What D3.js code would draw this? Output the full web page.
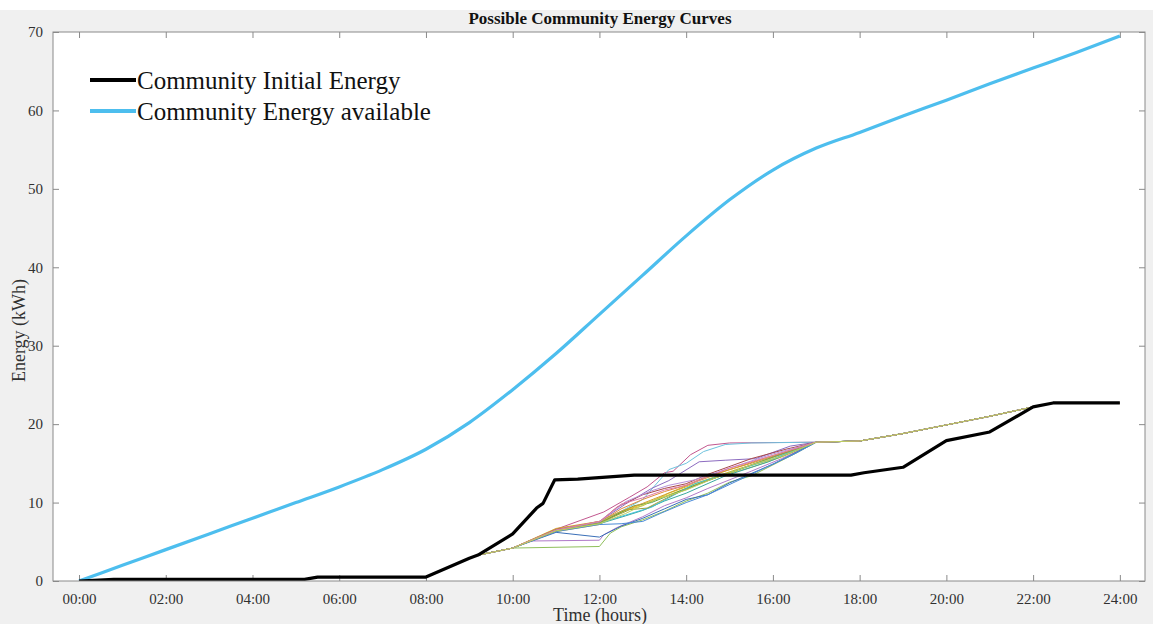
<!DOCTYPE html>
<html><head><meta charset="utf-8">
<script src="https://cdn.jsdelivr.net/npm/d3@7"></script>
<style>
html,body{margin:0;padding:0;background:#f0f0f0;}
svg{display:block;}
text{font-family:"Liberation Serif","Times New Roman",serif;}
</style></head><body>
<svg id="c" width="1153" height="624"></svg>
<script>
// ---------- DATA ----------
const xTicks = [0,2,4,6,8,10,12,14,16,18,20,22,24];
const yTicks = [0,10,20,30,40,50,60,70];
const legendLabels = ["Community Initial Energy","Community Energy available"];

// Community Energy available (hour, kWh)
const availHours  = [0,1,2,3,4,5,6,7,8,9,10,11,12,13,14,15,16,17,18,19,20,21,22,23,24];
const availValues = [0,2.0,4.0,6.0,8.0,10.0,12.0,14.2,16.8,20.2,24.4,29.0,34.0,39.0,44.0,48.6,52.4,55.2,57.2,59.3,61.3,63.4,65.4,67.4,69.5];

// Community Initial Energy
const initHours  = [0,0.8,5.2,5.5,8,9,9.2,10,10.55,10.7,10.97,11.5,12.8,14.3,17.8,18.1,19,20,21,22,22.46,24];
const initValues = [0,0.2,0.2,0.5,0.5,2.9,3.3,6.0,9.3,9.9,12.9,13.0,13.5,13.5,13.5,13.8,14.5,17.9,19.0,22.2,22.7,22.7];

// Possible curves: shared start, individual middle parts, shared end
const sharedStart = [[0,0],[0.8,0.2],[5.2,0.2],[5.5,0.5],[8,0.5],[9,2.9],[9.2,3.3]];
const sharedEnd   = [[18,17.85],[19,18.8],[20,19.9],[21,21.0],[22,22.2],[22.46,22.7],[24,22.7]];
const curve01 = [[10,4.2],[12,4.4],[12.25,6.1],[12.5,6.9],[13,7.8],[13.5,8.9],[14,10.2],[14.5,11.2],[15,12.6],[15.5,13.4],[16,14.8],[16.5,16.2],[17,17.7]];
const curve02 = [[10,4.2],[10.4,5.1],[12,5.2],[12.1,5.9],[12.4,6.8],[13,8.2],[13.5,9.6],[14,10.6],[14.5,11.8],[15.5,14],[16.2,15.6],[17,17.7]];
const curve03 = [[10,4.2],[11,6.5],[12,7.4],[12.5,8.8],[13,9.8],[13.5,10.8],[14,11.8],[14.5,12.9],[15.5,14.5],[16.2,15.8],[17,17.7]];
const curve04 = [[10,4.2],[11,6.3],[12,7.2],[12.25,8.0],[12.6,9.0],[13,9.6],[13.6,11.2],[14.3,12.6],[15.2,14.3],[16,15.5],[17,17.7]];
const curve05 = [[10,4.2],[11,6.6],[12.1,8.8],[12.7,10.7],[13.1,12.0],[13.5,13.8],[13.7,14.0],[14.1,16.1],[14.5,17.3],[15,17.6],[17,17.7]];
const curve06 = [[10,4.2],[11,6.4],[12,7.6],[12.5,8.9],[13,10.4],[13.6,14.2],[14,15.0],[14.4,16.5],[14.9,17.4],[15.5,17.6],[17,17.7]];
const curve07 = [[10,4.2],[11,6.5],[12,7.6],[12.6,9.8],[13.2,11.8],[13.6,12.8],[14.3,15.2],[14.9,15.4],[15.6,15.6],[16.4,17.2],[17,17.7]];
const curve08 = [[10,4.2],[11,6.2],[12,5.6],[12.5,7.0],[13,8.0],[13.5,9.2],[14,10.4],[14.5,11.0],[15,12.5],[16,14.9],[17,17.7]];
const curve09 = [[10,4.2],[11,6.5],[12,7.5],[12.5,9.2],[13,10.4],[13.5,11.4],[14,12.2],[14.5,13.4],[15.5,15.0],[17,17.7]];
const curve10 = [[10,4.2],[11,6.4],[12,7.3],[12.6,8.3],[13,9.0],[13.5,10.2],[14,11.2],[14.9,13.4],[15.9,15.2],[17,17.7]];
const curve11 = [[10,4.2],[11,6.6],[12,7.5],[12.4,9.4],[13,11.0],[13.5,11.8],[14,12.4],[14.5,13.6],[15.5,15.6],[16.3,16.8],[17,17.7]];
const curve12 = [[10,4.2],[11,6.5],[12,7.4],[12.8,9.6],[13.2,10.0],[14,11.8],[15,13.8],[16,15.8],[17,17.7]];
const curve13 = [[10,4.2],[11,6.4],[12,7.4],[12.6,8.4],[13.2,9.4],[13.6,10.6],[14.2,12.4],[15,13.8],[16,15.6],[17,17.7]];
const curve14 = [[10,4.2],[11,6.7],[12,7.6],[12.5,8.9],[13,9.9],[13.5,11.0],[14.3,12.8],[15,14.2],[16,16.0],[17,17.7]];
const curve15 = [[10,4.2],[11,6.5],[12,7.5],[12.6,10.1],[13.2,11.5],[13.6,12.2],[14.2,12.9],[15,14.4],[16,16.2],[17,17.7]];
const curve16 = [[10,4.2],[11,6.3],[12,7.2],[12.5,7.3],[13,7.6],[13.4,8.6],[14,10.0],[14.5,11.0],[15.5,13.6],[16.5,16.2],[17,17.7]];
const curve17 = [[10,4.2],[11,6.4],[12,7.4],[12.7,9.1],[13.1,9.3],[13.7,11.0],[14.5,12.8],[15.5,14.8],[17,17.7]];
const curve18 = [[10,4.2],[11,6.5],[12,7.6],[12.5,9.8],[13,10.6],[13.5,11.6],[14,12.2],[15,14.4],[16,16.0],[17,17.7]];
const curve19 = [[10,4.2],[11,6.4],[12,7.3],[12.6,8.6],[13.2,10.2],[14,11.6],[14.6,13.0],[15.5,14.8],[16.2,15.9],[17,17.7]];
const curveMiddles = [curve01,curve02,curve03,curve04,curve05,curve06,curve07,curve08,curve09,curve10,
                      curve11,curve12,curve13,curve14,curve15,curve16,curve17,curve18,curve19];
const curveColors = ["#8fbf5a","#b07ac8","#e0c030","#d8b828","#c2578f","#6ec3de","#8c6bc0","#3a6fb8","#e08a3c",
                     "#3aa8a0","#a8484a","#5aa04a","#40c0d8","#d0a030","#b890d8","#4a8ad8","#9aa040","#e07aa8","#bcd060"];

// ---------- LAYOUT ----------
const W = 1153, H = 624;
const m = {left:53, right:1145, top:32, bottom:581};
const svg = d3.select("#c");

svg.append("rect").attr("x",0).attr("y",0).attr("width",W).attr("height",10).attr("fill","#ffffff");

const x = d3.scaleLinear().domain([-0.6,24.58]).range([m.left,m.right]);
const y = d3.scaleLinear().domain([0,70]).range([m.bottom,m.top]);

svg.append("rect").attr("x",m.left).attr("y",m.top)
  .attr("width",m.right-m.left).attr("height",m.bottom-m.top).attr("fill","#ffffff");

svg.append("clipPath").attr("id","clp").append("rect")
  .attr("x",m.left).attr("y",m.top).attr("width",m.right-m.left).attr("height",m.bottom-m.top);

const fmt = h => d3.format("02d")(h)+":00";
const tickColor = "#8a8a8a", textColor = "#303030";

// axes
const gx = svg.append("g").attr("transform",`translate(0,${m.bottom})`)
  .call(d3.axisBottom(x).tickValues(xTicks).tickFormat(fmt).tickSizeInner(-6).tickSizeOuter(0).tickPadding(12));
const gxt = svg.append("g").attr("transform",`translate(0,${m.top})`)
  .call(d3.axisTop(x).tickValues(xTicks).tickFormat("").tickSizeInner(-6).tickSizeOuter(0));
const gy = svg.append("g").attr("transform",`translate(${m.left},0)`)
  .call(d3.axisLeft(y).tickValues(yTicks).tickSizeInner(-6).tickSizeOuter(0).tickPadding(10));
const gyr = svg.append("g").attr("transform",`translate(${m.right},0)`)
  .call(d3.axisRight(y).tickValues(yTicks).tickFormat("").tickSizeInner(-6).tickSizeOuter(0));
[gx,gxt,gy,gyr].forEach(g=>{
  g.select(".domain").remove();
  g.selectAll(".tick line").attr("stroke",tickColor);
  g.selectAll(".tick text").attr("fill",textColor).style("font-size","15px").style("font-family","'Liberation Serif',serif");
});

const plot = svg.append("g").attr("clip-path","url(#clp)");
const line = d3.line().x(d=>x(d[0])).y(d=>y(d[1]));
const smooth = d3.line().x(d=>x(d[0])).y(d=>y(d[1])).curve(d3.curveMonotoneX);

// Blue available
plot.append("path").datum(availHours.map((h,i)=>[h,availValues[i]]))
  .attr("d",smooth).attr("fill","none").attr("stroke","#4dbeee").attr("stroke-width",3.2);
// Possible curves (under the black line)
curveMiddles.forEach((mid,i)=>{
  const pts = sharedStart.concat(mid, sharedEnd);
  plot.append("path").datum(pts).attr("d",line).attr("fill","none")
    .attr("stroke",curveColors[i]).attr("stroke-width",1);
});
// Black initial
plot.append("path").datum(initHours.map((h,i)=>[h,initValues[i]]))
  .attr("d",line).attr("fill","none").attr("stroke","#000").attr("stroke-width",3.2).attr("stroke-linejoin","round");

// frame
svg.append("rect").attr("x",m.left).attr("y",m.top)
  .attr("width",m.right-m.left).attr("height",m.bottom-m.top)
  .attr("fill","none").attr("stroke",tickColor).attr("stroke-width",1);

// title
svg.append("text").attr("x",(m.left+m.right)/2+1).attr("y",24).attr("text-anchor","middle")
  .style("font-size","17px").style("font-weight","bold").attr("fill","#111")
  .text("Possible Community Energy Curves");
// axis labels
svg.append("text").attr("x",600).attr("y",621).attr("text-anchor","middle")
  .style("font-size","18px").attr("fill",textColor).text("Time (hours)");
svg.append("text").attr("transform",`translate(25,${(m.top+m.bottom)/2+24}) rotate(-90)`)
  .attr("text-anchor","middle").style("font-size","18px").attr("fill",textColor).text("Energy (kWh)");

// legend
const legColors = ["#000000","#4dbeee"];
legendLabels.forEach((lab,i)=>{
  const ly = 80 + i*31;
  svg.append("line").attr("x1",90).attr("x2",136).attr("y1",ly).attr("y2",ly)
    .attr("stroke",legColors[i]).attr("stroke-width",4);
  svg.append("text").attr("x",137).attr("y",ly+9).style("font-size","25px").attr("fill","#111").text(lab);
});
</script>
</body></html>
